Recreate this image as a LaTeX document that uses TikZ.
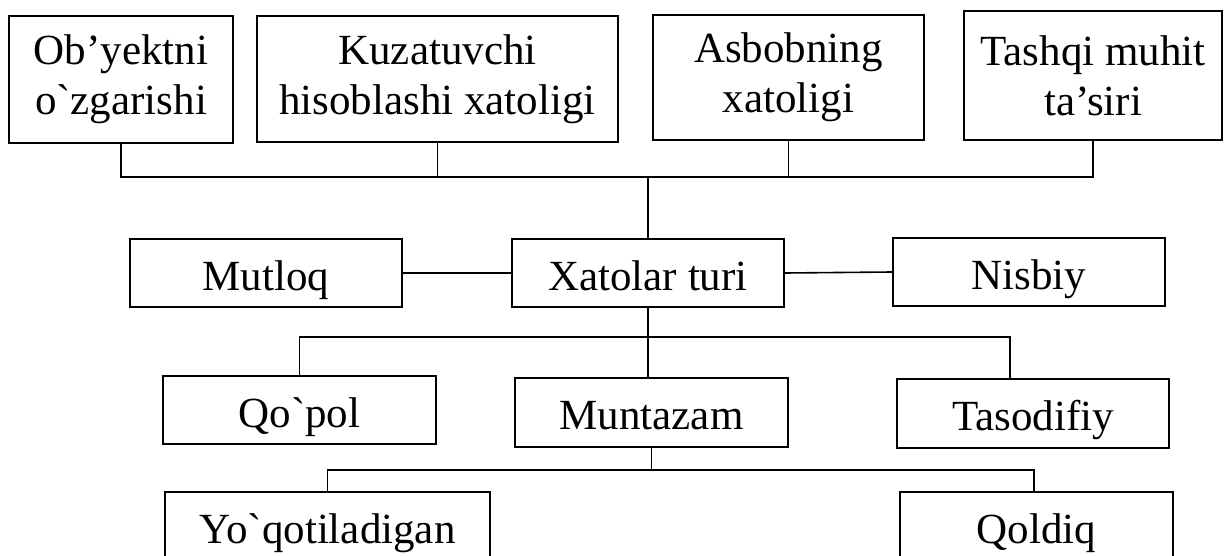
\documentclass[tikz,border=0pt]{standalone}
\usepackage{fontspec}
\setmainfont{Liberation Serif}[Ligatures=TeXOff]
\usepackage{tikz}
\def\ybusA{177}
\def\ybusB{337}
\def\ybusC{470}
\tikzset{
  caja/.style={draw, line width=1pt, inner sep=0pt, align=center,
    font=\fontsize{21.5pt}{25pt}\selectfont},
  linea/.style={caja, text height=20pt, text depth=3pt},
  enlace/.style={line width=0.8pt}
}

\begin{document}
\begin{tikzpicture}[x=0.5pt, y=-0.5pt]
    \clip (0,0) rectangle (1225,556);

    % Fila superior: causas
    \node[caja, minimum width=112pt, minimum height=63.5pt] (obyekt) at (121,79.5) {Ob’yektni\\o`zgarishi};
    \node[caja, minimum width=180.5pt, minimum height=63pt] (kuzat) at (437.5,79) {Kuzatuvchi\\hisoblashi xatoligi};
    \node[caja, minimum width=135.5pt, minimum height=62.5pt] (asbob) at (788.5,77.5) {Asbobning\\xatoligi};
    \node[caja, minimum width=129pt, minimum height=64.5pt] (tashqi) at (1093,75.5) {Tashqi muhit\\ta’siri};

    % Fila central
    \node[linea, minimum width=136pt, minimum height=34pt] (mutloq) at (266,273) {Mutloq};
    \node[linea, minimum width=136pt, minimum height=34pt] (xato) at (648,273) {Xatolar turi};
    \node[linea, minimum width=136pt, minimum height=34pt] (nisbiy) at (1029,272) {Nisbiy};

    % Tipos
    \node[linea, minimum width=136.5pt, minimum height=34pt] (qopol) at (299.5,410) {Qo`pol};
    \node[linea, minimum width=136.5pt, minimum height=34.5pt] (muntaz) at (651.5,412.5) {Muntazam};
    \node[linea, minimum width=136pt, minimum height=34.5pt] (tasod) at (1033,413.5) {Tasodifiy};

    % Fila inferior (cortada por el borde)
    \node[linea, minimum width=162.5pt, minimum height=34pt] (yoqot) at (327.5,526) {Yo`qotiladigan};
    \node[linea, minimum width=136.5pt, minimum height=34pt] (qoldiq) at (1036.5,526) {Qoldiq};

    % Coordenadas de las barras
    \coordinate (busA) at (640,\ybusA);
    \coordinate (busB) at (1010,\ybusB);
    \coordinate (busC) at (1034,\ybusC);

    % Barra superior
    \draw[enlace] (obyekt.south) -- (obyekt.south |- busA) -- (tashqi.south |- busA) -- (tashqi.south);
    \draw[enlace] (kuzat.south) -- (kuzat.south |- busA);
    \draw[enlace] (asbob.south) -- (asbob.south |- busA);
    \draw[enlace] (xato.north) -- (xato.north |- busA);

    % Enlaces horizontales
    \draw[enlace] (mutloq.east) -- (xato.west);
    \draw[enlace] (xato.east) -- (nisbiy.west);

    % Barra media
    \draw[enlace] (xato.south) -- (xato.south |- muntaz.north);
    \draw[enlace] (qopol.north) -- (qopol.north |- busB) -- (busB) -- (busB |- tasod.north);

    % Barra inferior
    \draw[enlace] (muntaz.south) -- (muntaz.south |- busC);
    \draw[enlace] (yoqot.north) -- (yoqot.north |- busC) -- (busC) -- (busC |- qoldiq.north);
  \end{tikzpicture}
\end{document}
